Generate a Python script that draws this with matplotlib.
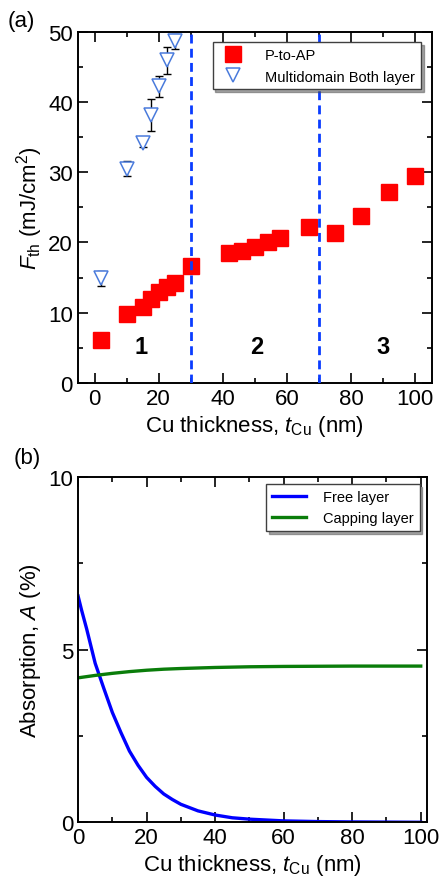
import matplotlib
matplotlib.use('Agg')
import numpy as np
import matplotlib.pyplot as plt

plt.rcParams['font.family'] = ['Liberation Sans', 'DejaVu Sans']
plt.rcParams['mathtext.fontset'] = 'custom'
plt.rcParams['mathtext.rm'] = 'Liberation Sans'
plt.rcParams['mathtext.it'] = 'Liberation Sans:italic'
plt.rcParams['axes.linewidth'] = 1.4

# ---------------- (a) 阈值 ----------------
t_ap = [2, 10, 15, 17.5, 20, 22.5, 25, 30, 42, 46, 50, 54, 58, 67, 75, 83, 92, 100]
F_ap = [6.2, 9.8, 10.8, 11.9, 12.9, 13.7, 14.3, 16.7, 18.5, 18.8, 19.4, 20.0, 20.7,
        22.2, 21.4, 23.7, 27.2, 29.5]

t_md = [2, 10, 15, 17.5, 20, 22.5, 25]
F_md = [14.9, 30.5, 34.1, 38.1, 42.2, 45.9, 48.6]
F_md_err = [1.1, 1.1, 0.5, 2.25, 1.5, 1.95, 1.1]

region_x = [30, 70]
region_lbl = ['1', '2', '3']
region_lbl_x = [14.5, 50.5, 90]

# ---------------- (b) 吸收 ----------------
t_free = [0, 1, 2.5, 5, 7.5, 10, 12.5, 15, 17.5, 20, 22.5, 25, 27.5, 30, 35, 40,
          45, 50, 60, 70, 80, 90, 100]
A_free = [6.55, 6.15, 5.6, 4.6, 3.88, 3.18, 2.6, 2.06, 1.65, 1.3, 1.04, 0.82, 0.66,
          0.52, 0.33, 0.21, 0.13, 0.09, 0.04, 0.02, 0.01, 0.005, 0.0]

t_cap = [0, 5, 10, 15, 20, 25, 30, 40, 50, 60, 80, 100]
A_cap = [4.18, 4.25, 4.31, 4.36, 4.40, 4.43, 4.45, 4.48, 4.50, 4.51, 4.52, 4.52]

FS = 16

fig = plt.figure(figsize=(4.41, 8.79), dpi=100)
ax1 = fig.add_axes([0.176, 0.563, 0.803, 0.400])
ax2 = fig.add_axes([0.177, 0.0634, 0.791, 0.3931])


def style_ax(ax):
    ax.tick_params(which='both', direction='in', top=True, right=True,
                   labelsize=FS, width=1.2)
    ax.tick_params(which='major', length=7)
    ax.tick_params(which='minor', length=3.5)


# (a)
ax1.errorbar(t_md, F_md, yerr=F_md_err, fmt='none', ecolor='black', elinewidth=1,
             capsize=3, capthick=1, zorder=2)
ax1.plot(t_md, F_md, 'v', ms=10.5, mfc='white', mec='#4a7bdc', mew=1.1,
         label='Multidomain Both layer', zorder=3)
ax1.plot(t_ap, F_ap, 's', ms=11.5, color='#ff0000', mec='#ff0000',
         label='P-to-AP', zorder=4)
for xv in region_x:
    ax1.axvline(xv, color='#0a3cff', lw=2.0, ls=(0, (3.2, 1.9)), zorder=5)
for lx, lt in zip(region_lbl_x, region_lbl):
    ax1.text(lx, 5.2, lt, fontsize=17, fontweight='bold', ha='center', va='center')

ax1.set_xlim(-5.3, 105.2)
ax1.set_ylim(0, 50)
ax1.set_xticks(np.arange(0, 101, 20))
ax1.set_xticks(np.arange(0, 101, 10), minor=True)
ax1.set_yticks(np.arange(0, 51, 10))
ax1.set_yticks(np.arange(0, 51, 5), minor=True)
style_ax(ax1)
ax1.set_xlabel('Cu thickness, $t_{\\rm Cu}$ (nm)', fontsize=FS, labelpad=3)
ax1.set_ylabel('$F_{\\rm th}$ (mJ/cm$^2$)', fontsize=FS, labelpad=2)
h, l = ax1.get_legend_handles_labels()
leg = ax1.legend(h[::-1], l[::-1], loc='upper right', fontsize=10.5, shadow=True,
                 fancybox=False, framealpha=1, edgecolor='0.25',
                 borderaxespad=0.75, handletextpad=1.2)
leg.get_frame().set_linewidth(1.0)
leg.set_zorder(10)
fig.text(0.018, 0.976, '(a)', fontsize=FS, ha='left', va='center')

# (b)
ax2.plot(t_free, A_free, color='#0000ff', lw=2.4, label='Free layer')
ax2.plot(t_cap, A_cap, color='#0a7d0a', lw=2.4, label='Capping layer')
ax2.set_xlim(0, 101.8)
ax2.set_ylim(0, 10)
ax2.set_xticks(np.arange(0, 101, 20))
ax2.set_xticks(np.arange(0, 101, 10), minor=True)
ax2.set_yticks([0, 5, 10])
ax2.set_yticks(np.arange(0, 10.1, 2.5), minor=True)
style_ax(ax2)
ax2.set_xlabel('Cu thickness, $t_{\\rm Cu}$ (nm)', fontsize=FS, labelpad=3)
ax2.set_ylabel('Absorption, $A$ (%)', fontsize=FS, labelpad=4)
leg2 = ax2.legend(loc='upper right', fontsize=10.5, shadow=True, fancybox=False,
                  framealpha=1, edgecolor='0.25', borderaxespad=0.5,
                  handlelength=2.3, handletextpad=1.2)
leg2.get_frame().set_linewidth(1.0)
fig.text(0.03, 0.478, '(b)', fontsize=FS, ha='left', va='center')

plt.savefig('out.png', dpi=100)
plt.close()
